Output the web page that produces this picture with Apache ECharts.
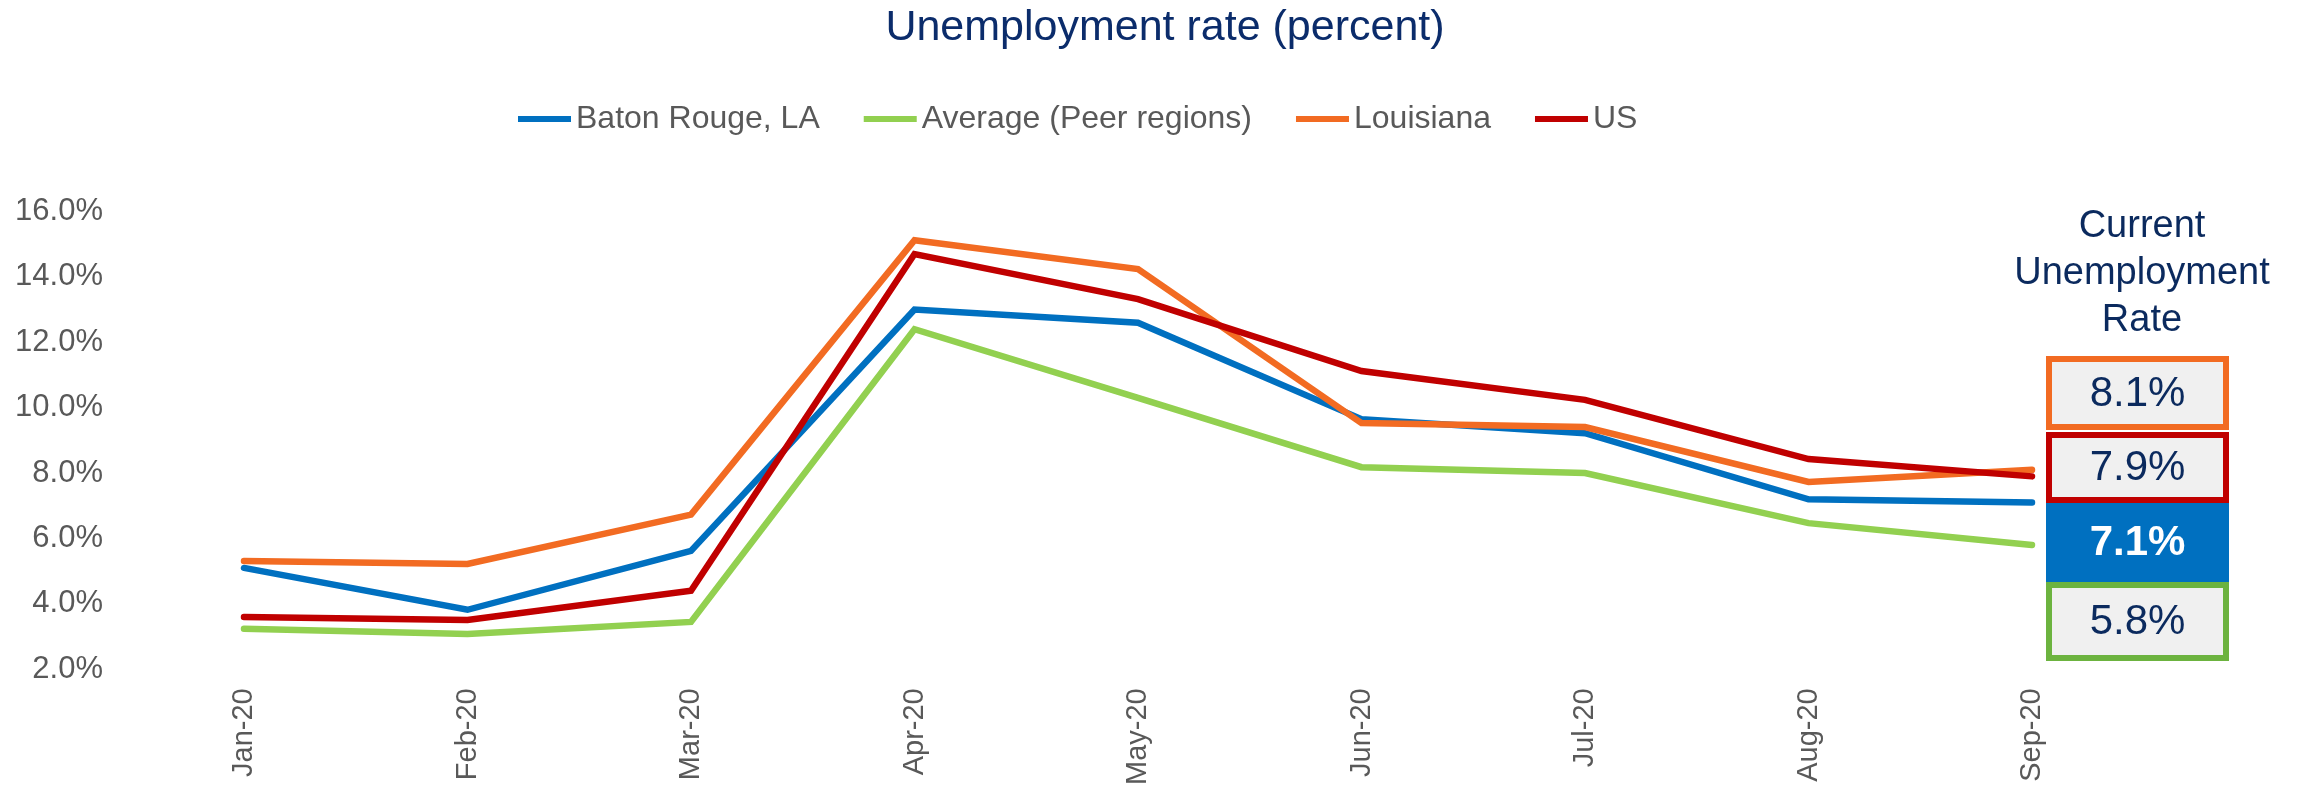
<!DOCTYPE html>
<html>
<head>
<meta charset="utf-8">
<script src="https://cdn.jsdelivr.net/npm/echarts@6/dist/echarts.min.js"></script>
<style>
  html, body { margin: 0; padding: 0; background: #fff; }
  #myChart { width: 2303px; height: 788px; }
</style>
</head>
<body>
<div id="myChart"></div>
<script>
// data
const months = ["Jan-20", "Feb-20", "Mar-20", "Apr-20", "May-20", "Jun-20", "Jul-20", "Aug-20", "Sep-20"];
const batonRouge = [5.1, 3.82, 5.62, 13.0, 12.6, 9.65, 9.22, 7.2, 7.1];
const peerAverage = [3.24, 3.08, 3.45, 12.4, 10.3, 8.18, 8.0, 6.47, 5.8];
const louisiana = [5.31, 5.22, 6.73, 15.12, 14.24, 9.53, 9.41, 7.73, 8.1];
const us = [3.6, 3.51, 4.4, 14.7, 13.32, 11.12, 10.24, 8.43, 7.9];

const font = "'Liberation Sans', Arial, sans-serif";
const navy = '#0B2A5E';

let myChart = echarts.init(document.getElementById('myChart'));

// boxes on the right: current (last) value of each series
const last = arr => arr[arr.length - 1].toFixed(1) + '%';
const boxes = [
  { text: last(louisiana), top: 356, bottom: 430, border: '#F26B22', fill: '#F0F0F0', color: navy, bold: false },
  { text: last(us), top: 432, bottom: 503, border: '#C00000', fill: '#F0F0F0', color: navy, bold: false },
  { text: last(batonRouge), top: 503, bottom: 582, border: null, fill: '#0070C0', color: '#fff', bold: true },
  { text: last(peerAverage), top: 582, bottom: 661, border: '#6CB33F', fill: '#F0F0F0', color: navy, bold: false }
];
const boxLeft = 2046, boxRight = 2229, bw = 6;
let graphics = [{
  type: 'text',
  x: 2142, y: 274,
  style: {
    text: 'Current\nUnemployment\nRate',
    textAlign: 'center',
    textVerticalAlign: 'middle',
    font: '38px ' + font,
    fill: navy,
    lineHeight: 47
  },
  z: 10
}];
boxes.forEach(b => {
  graphics.push({
    type: 'rect',
    shape: b.border
      ? { x: boxLeft + bw / 2, y: b.top + bw / 2, width: boxRight - boxLeft - bw, height: b.bottom - b.top - bw }
      : { x: boxLeft, y: b.top, width: boxRight - boxLeft, height: b.bottom - b.top },
    style: { fill: b.fill, stroke: b.border || null, lineWidth: b.border ? bw : 0 },
    z: 10
  });
  graphics.push({
    type: 'text',
    x: (boxLeft + boxRight) / 2,
    y: (b.top + b.bottom) / 2 + 1,
    style: {
      text: b.text,
      textAlign: 'center',
      textVerticalAlign: 'middle',
      font: (b.bold ? 'bold ' : '') + '42px ' + font,
      fill: b.color
    },
    z: 11
  });
});

const mkSeries = (name, data, color) => ({
  name: name,
  type: 'line',
  data: data,
  symbol: 'none',
  lineStyle: { width: 6.5, color: color, cap: 'round', join: 'miter' },
  itemStyle: { color: color }
});

myChart.setOption({
  animation: false,
  title: {
    text: 'Unemployment rate (percent)',
    left: 1160,
    top: 2,
    textAlign: 'center',
    textStyle: { fontFamily: font, fontSize: 43, fontWeight: 'normal', color: '#0B2C6B' }
  },
  legend: {
    left: 513,
    top: 98,
    icon: 'rect',
    itemWidth: 53,
    itemHeight: 6,
    itemGap: 44,
    textStyle: { fontFamily: font, fontSize: 32, color: '#595959' },
    data: ['Baton Rouge, LA', 'Average (Peer regions)', 'Louisiana', 'US']
  },
  grid: { left: 244, right: 271, top: 211.5, bottom: 117, containLabel: false },
  xAxis: {
    type: 'category',
    boundaryGap: false,
    data: months,
    axisLine: { show: false },
    axisTick: { show: false },
    axisLabel: { rotate: 90, margin: 19, fontFamily: font, fontSize: 29, color: '#595959' }
  },
  yAxis: {
    type: 'value',
    min: 2,
    max: 16,
    interval: 2,
    splitLine: { show: false },
    axisLine: { show: false },
    axisTick: { show: false },
    axisLabel: {
      margin: 141,
      fontFamily: font, fontSize: 31, color: '#595959',
      formatter: v => v.toFixed(1) + '%'
    }
  },
  series: [
    mkSeries('Baton Rouge, LA', batonRouge, '#0070C0'),
    mkSeries('Average (Peer regions)', peerAverage, '#92D050'),
    mkSeries('Louisiana', louisiana, '#F26B22'),
    mkSeries('US', us, '#C00000')
  ],
  graphic: graphics
});
</script>
</body>
</html>
